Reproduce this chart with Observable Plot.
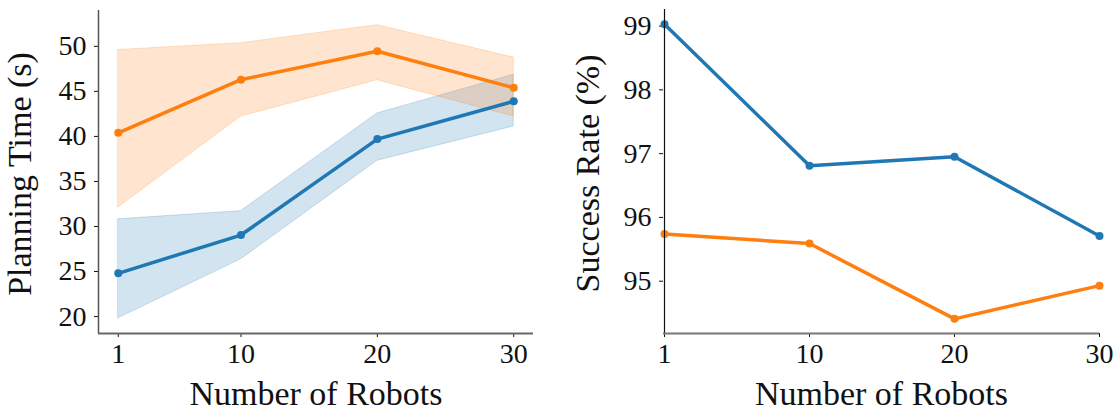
<!DOCTYPE html>
<html>
<head>
<meta charset="utf-8">
<script src="https://cdn.jsdelivr.net/npm/d3@7"></script>
<script src="https://cdn.jsdelivr.net/npm/@observablehq/plot@0.6"></script>
<style>
  html, body { margin: 0; padding: 0; background: #fff; }
  #row { display: flex; width: 1120px; height: 411px; }
  svg { display: block; }
</style>
</head>
<body>
<div id="row"></div>
<script>
// ---- data ----
const robots = [1, 10, 20, 30];
const xTickLabels = ["1", "10", "20", "30"];

// Planning time (s): blue series and orange series, mean with band
const timeBlueMean = [24.8, 29.05, 39.7, 43.9];
const timeBlueLow  = [19.8, 26.35, 37.3, 41.1];
const timeBlueHigh = [30.8, 31.7, 42.55, 46.85];
const timeOrangeMean = [40.4, 46.3, 49.45, 45.4];
const timeOrangeLow  = [32.1, 42.2, 46.25, 42.2];
const timeOrangeHigh = [49.6, 50.35, 52.35, 48.75];

// Success rate (%)
const successBlue   = [99.03, 96.81, 96.95, 95.71];
const successOrange = [95.74, 95.59, 94.41, 94.93];

const timeTicks = [20, 25, 30, 35, 40, 45, 50];
const successTicks = [95, 96, 97, 98, 99];

const BLUE = "#1f77b4", ORANGE = "#ff7f0e";
const FONT = "'Liberation Serif', 'DejaVu Serif', serif";

const timeBlue = robots.map((r, i) => ({r, mean: timeBlueMean[i], low: timeBlueLow[i], high: timeBlueHigh[i]}));
const timeOrange = robots.map((r, i) => ({r, mean: timeOrangeMean[i], low: timeOrangeLow[i], high: timeOrangeHigh[i]}));
const succBlue = robots.map((r, i) => ({r, v: successBlue[i]}));
const succOrange = robots.map((r, i) => ({r, v: successOrange[i]}));

const fmt = d => xTickLabels[robots.indexOf(d)];
const intFmt = d => String(d);

// ---- left panel: planning time ----
const xDomL = [-0.45, 31.45];
const yDomL = [18.12, 53.98];
const left = Plot.plot({
  width: 560, height: 411,
  marginLeft: 98, marginRight: 27, marginTop: 10, marginBottom: 78,
  style: {fontFamily: FONT, fontSize: "28px", background: "white", color: "#111", overflow: "visible"},
  x: {domain: xDomL, ticks: robots, tickFormat: fmt, tickSize: 4, tickPadding: 6, label: null},
  y: {domain: yDomL, ticks: timeTicks, tickFormat: intFmt, tickSize: 4, tickPadding: 8, label: null},
  marks: [
    Plot.areaY(timeBlue, {x: "r", y1: "low", y2: "high", fill: BLUE, fillOpacity: 0.2, stroke: BLUE, strokeOpacity: 0.22, strokeWidth: 1}),
    Plot.areaY(timeOrange, {x: "r", y1: "low", y2: "high", fill: ORANGE, fillOpacity: 0.2, stroke: ORANGE, strokeOpacity: 0.22, strokeWidth: 1}),
    Plot.line(timeBlue, {x: "r", y: "mean", stroke: BLUE, strokeWidth: 3.5}),
    Plot.dot(timeBlue, {x: "r", y: "mean", fill: BLUE, r: 4}),
    Plot.line(timeOrange, {x: "r", y: "mean", stroke: ORANGE, strokeWidth: 3.5}),
    Plot.dot(timeOrange, {x: "r", y: "mean", fill: ORANGE, r: 4}),
    Plot.ruleX([xDomL[0]], {stroke: "#555", strokeWidth: 1.5}),
    Plot.ruleY([yDomL[0]], {stroke: "#666", strokeWidth: 1.8}),
    Plot.text(["Planning Time (s)"], {text: d => d, frameAnchor: "left", textAnchor: "middle", rotate: -90, lineAnchor: "bottom", dx: -68, dy: 2, fontSize: 34}),
    Plot.text(["Number of Robots"], {text: d => d, frameAnchor: "bottom", textAnchor: "middle", lineAnchor: "bottom", dy: 71, fontSize: 34})
  ]
});

// ---- right panel: success rate ----
const yDomR = [94.18, 99.26];
const right = Plot.plot({
  width: 560, height: 411,
  marginLeft: 103, marginRight: 21, marginTop: 9, marginBottom: 78,
  style: {fontFamily: FONT, fontSize: "28px", background: "white", color: "#111", overflow: "visible"},
  x: {type: "point", domain: robots, padding: 0, tickFormat: fmt, tickSize: 4, tickPadding: 6, label: null},
  y: {domain: yDomR, ticks: successTicks, tickFormat: intFmt, tickSize: 4, tickPadding: 8, label: null},
  marks: [
    Plot.line(succBlue, {x: "r", y: "v", stroke: BLUE, strokeWidth: 3.5}),
    Plot.dot(succBlue, {x: "r", y: "v", fill: BLUE, r: 4}),
    Plot.line(succOrange, {x: "r", y: "v", stroke: ORANGE, strokeWidth: 3.5}),
    Plot.dot(succOrange, {x: "r", y: "v", fill: ORANGE, r: 4}),
    Plot.ruleX([robots[0]], {stroke: "#111", strokeWidth: 1.2}),
    Plot.ruleY([yDomR[0]], {stroke: "#777", strokeWidth: 1.8}),
    Plot.text(["Success Rate (%)"], {text: d => d, frameAnchor: "left", textAnchor: "middle", rotate: -90, lineAnchor: "bottom", dx: -65, dy: 2, fontSize: 34}),
    Plot.text(["Number of Robots"], {text: d => d, frameAnchor: "bottom", textAnchor: "middle", lineAnchor: "bottom", dy: 71, fontSize: 34})
  ]
});

const row = document.getElementById("row");
row.appendChild(left);
row.appendChild(right);
</script>
</body>
</html>
